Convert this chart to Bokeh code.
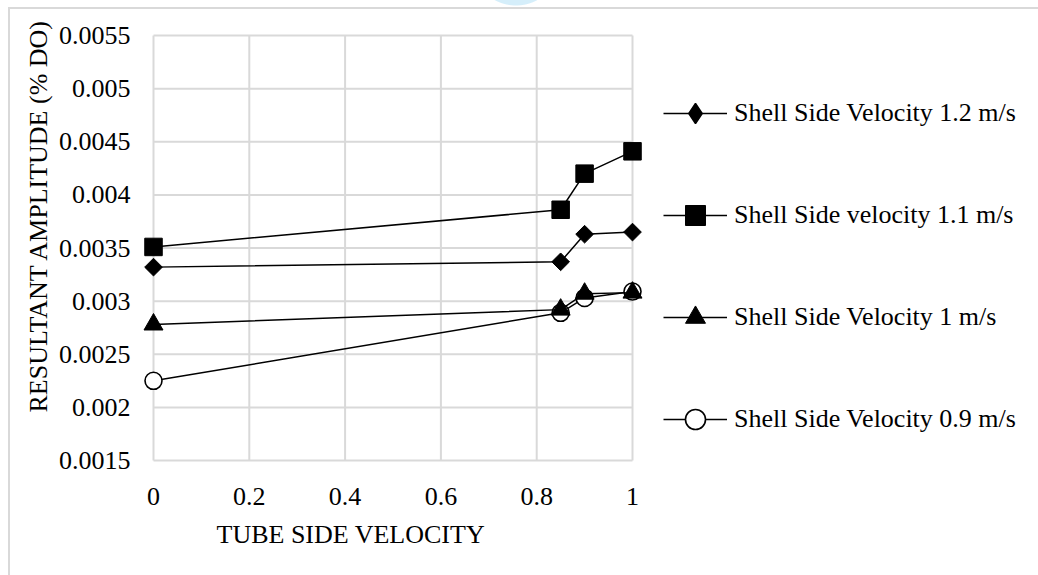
import numpy as np
from bokeh.plotting import figure
from bokeh.models import Range1d, FixedTicker, Legend, LegendItem, Title
from bokeh.embed import file_html
from bokeh.resources import INLINE

# ---------------- data ----------------
tube_velocity = [0.0, 0.85, 0.9, 1.0]
amp_shell_12 = [0.00332, 0.00337, 0.00363, 0.00365]
amp_shell_11 = [0.00351, 0.00386, 0.00420, 0.00441]
amp_shell_10 = [0.00278, 0.00292, 0.00307, 0.00308]
amp_shell_09 = [0.00225, 0.00289, 0.00303, 0.00309]
series_labels = ["Shell Side Velocity 1.2 m/s",
                 "Shell Side velocity 1.1 m/s",
                 "Shell Side Velocity 1 m/s",
                 "Shell Side Velocity 0.9 m/s"]
x_ticks = [0, 0.2, 0.4, 0.6, 0.8, 1]
x_tick_labels = ["0", "0.2", "0.4", "0.6", "0.8", "1"]
y_ticks = [0.0015, 0.002, 0.0025, 0.003, 0.0035, 0.004, 0.0045, 0.005, 0.0055]
y_tick_labels = ["0.0015", "0.002", "0.0025", "0.003", "0.0035", "0.004",
                 "0.0045", "0.005", "0.0055"]
x_title = "TUBE SIDE VELOCITY"
y_title = "RESULTANT AMPLITUDE (% DO)"

# ---------------- layout ----------------
W, H = 1038, 575
PX0, PX1 = 153, 632          # pixel of x=0 and x=1
PY0, PY1 = 460, 35           # pixel of lowest / highest y tick
FL, FR, FT, FB = 141, W, 0, 463   # frame edges in pixels
xmin, xmax = x_ticks[0], x_ticks[-1]
ymin, ymax = y_ticks[0], y_ticks[-1]
sx = (PX1 - PX0) / (xmax - xmin)
sy = (PY0 - PY1) / (ymax - ymin)

def px_to_x(px):
    return xmin + (px - PX0) / sx

def py_to_y(py):
    return ymin + (PY0 - py) / sy

FONT = "Liberation Serif"
FS = "26px"
GRID = "#d9d9d9"

p = figure(width=W, height=H, output_backend="svg", toolbar_location=None,
           x_range=Range1d(px_to_x(FL), px_to_x(FR)),
           y_range=Range1d(py_to_y(FB), py_to_y(FT)),
           min_border_left=FL, min_border_right=W - FR,
           min_border_top=FT, min_border_bottom=H - FB)
p.outline_line_color = None
p.background_fill_color = None
p.border_fill_color = None
p.xgrid.visible = False
p.ygrid.visible = False
# outer chart-area frame (left + top edges) drawn behind the transparent canvas
p.styles = {
    "background": ("linear-gradient(#d9d9d9,#d9d9d9) 8px 7px / 2px 100% no-repeat, "
                   "linear-gradient(#d9d9d9,#d9d9d9) 8px 7px / 100% 2px no-repeat, "
                   "radial-gradient(circle at 516px -39px, #d5eefa 44px, rgba(213,238,250,0) 45px), "
                   "#ffffff")
}

# grid lines limited to the tick span
p.segment(x0=[xmin] * len(y_ticks), y0=y_ticks, x1=[xmax] * len(y_ticks), y1=y_ticks,
          line_color=GRID, line_width=2)
p.segment(x0=x_ticks, y0=[ymin] * len(x_ticks), x1=x_ticks, y1=[ymax] * len(x_ticks),
          line_color=GRID, line_width=2)

# axes
for ax, ticks, labels, standoff in ((p.xaxis[0], x_ticks, x_tick_labels, 24),
                                    (p.yaxis[0], y_ticks, y_tick_labels, 11)):
    ax.ticker = FixedTicker(ticks=ticks)
    ax.major_label_overrides = {t: l for t, l in zip(ticks, labels)}
    ax.axis_line_color = None
    ax.major_tick_line_color = None
    ax.minor_tick_line_color = None
    ax.major_tick_out = 0
    ax.major_tick_in = 0
    ax.major_label_standoff = standoff
    ax.major_label_text_font = FONT
    ax.major_label_text_font_size = FS
    ax.major_label_text_color = "black"

# series (0.9 drawn first so other markers sit on top)
LW = 1.5
r_l09 = p.line(tube_velocity, amp_shell_09, line_color="black", line_width=LW)
r_m09 = p.scatter(tube_velocity, amp_shell_09, marker="circle", size=17,
                  fill_color="white", line_color="black", line_width=1.6)
r_l12 = p.line(tube_velocity, amp_shell_12, line_color="black", line_width=LW)
r_m12 = p.scatter(tube_velocity, amp_shell_12, marker="square", angle=np.pi / 4,
                  size=12.5, fill_color="black", line_color="black")
# legend-only diamond symbol (legend glyphs ignore marker angle)
r_k12 = p.scatter(tube_velocity, amp_shell_12, marker="diamond", size=17,
                  fill_color="black", line_color="black", line_width=1.5,
                  visible=False)
r_l11 = p.line(tube_velocity, amp_shell_11, line_color="black", line_width=LW)
r_m11 = p.scatter(tube_velocity, amp_shell_11, marker="square", size=17.5,
                  fill_color="black", line_color="black")
r_l10 = p.line(tube_velocity, amp_shell_10, line_color="black", line_width=LW)
r_m10 = p.scatter(tube_velocity, amp_shell_10, marker="triangle", size=19,
                  fill_color="black", line_color="black")

legend = Legend(items=[
    LegendItem(label=series_labels[0], renderers=[r_l12, r_k12]),
    LegendItem(label=series_labels[1], renderers=[r_l11, r_m11]),
    LegendItem(label=series_labels[2], renderers=[r_l10, r_m10]),
    LegendItem(label=series_labels[3], renderers=[r_l09, r_m09]),
],
    location=(663 - FL, FB - 444),
    orientation="vertical", glyph_width=64, glyph_height=50, label_height=50,
    label_standoff=7, spacing=52, padding=0, margin=0,
    border_line_color=None, background_fill_alpha=0,
    label_text_font=FONT, label_text_font_size=FS, label_text_color="black")
p.add_layout(legend)

# axis titles
p.add_layout(Title(text=x_title, align="left", offset=216 - FL, standoff=20,
                   text_font=FONT, text_font_size=FS, text_font_style="normal",
                   text_color="black"), "below")
p.add_layout(Title(text=y_title, align="left", offset=FB - 412, standoff=6,
                   text_font=FONT, text_font_size=FS, text_font_style="normal",
                   text_color="black"), "left")

open("out.html", "w").write(file_html(p, INLINE))
